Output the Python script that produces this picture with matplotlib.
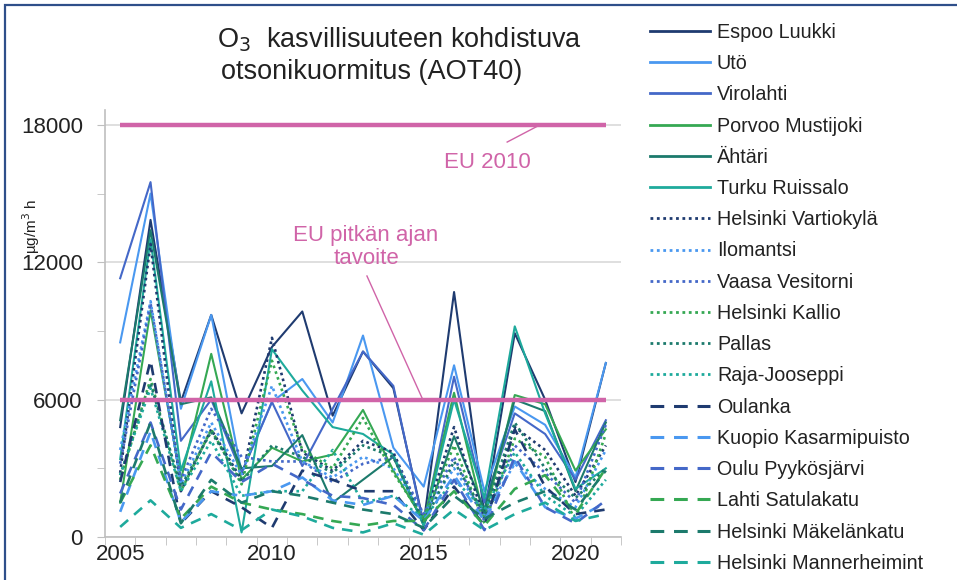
import matplotlib
matplotlib.use("Agg")
import matplotlib.pyplot as plt
from matplotlib.lines import Line2D
from matplotlib.patches import Rectangle

plt.rcParams['font.family'] = ['Liberation Sans', 'DejaVu Sans']

years = list(range(2005, 2022))

espoo_luukki = [4800, 13850, 5900, 9700, 5400, 8300, 9850, 5300, 8100, 6500, 600, 10700, 1000, 8900, 6000, 2400, 7600]
uto = [8500, 15000, 5600, 9700, 2800, 5900, 6900, 5000, 8800, 3900, 2200, 7500, 2000, 5700, 4900, 2600, 7600]
virolahti = [11300, 15500, 4200, 6000, 2800, 5900, 3100, 5600, 8100, 6600, 500, 7000, 1500, 5400, 4500, 2500, 5100]
porvoo = [1500, 9900, 2500, 8000, 2500, 3900, 3300, 3600, 5550, 2900, 700, 6300, 800, 6200, 5800, 2900, 4700]
ahtari = [5100, 13400, 5800, 6100, 3000, 3100, 4450, 1500, 2500, 3500, 500, 4400, 1200, 6000, 5500, 2000, 5000]
turku = [3400, 13000, 2900, 6800, 200, 8200, 6400, 4800, 4500, 3600, 500, 6000, 1700, 9200, 5400, 2100, 3000]

vartiokyla = [2800, 12800, 2000, 4700, 2500, 8700, 3700, 2900, 4200, 3700, 700, 4800, 800, 4800, 3800, 1800, 4000]
ilomantsi = [3800, 10300, 2300, 5000, 2700, 6600, 3300, 2600, 3500, 3000, 1000, 3000, 1000, 3200, 2100, 1300, 3800]
vaasa = [3200, 10200, 2500, 5600, 3500, 3300, 3300, 2400, 3200, 3500, 1000, 3500, 700, 4000, 2800, 1500, 4900]
kallio = [2500, 6900, 2000, 4700, 2300, 7700, 3800, 3000, 5200, 2800, 800, 4000, 600, 4300, 3500, 700, 4500]
pallas = [2700, 6700, 2200, 4600, 2400, 4000, 3500, 2800, 4000, 3500, 600, 3300, 1000, 5000, 3000, 1700, 3000]
raja_jooseppi = [2700, 6500, 2000, 4200, 1800, 2000, 2000, 3800, 1500, 1800, 800, 2500, 1200, 3700, 1800, 900, 2500]

oulanka = [2400, 7700, 600, 2000, 1300, 400, 2900, 2500, 2000, 2000, 300, 2200, 500, 4700, 2200, 1000, 1200]
kuopio = [1100, 4600, 650, 2000, 1800, 2000, 2600, 1600, 1400, 1800, 700, 2700, 700, 3300, 1300, 800, 1500]
oulu = [1900, 5000, 1200, 3700, 2400, 3200, 2500, 1800, 1700, 1400, 300, 2500, 300, 3500, 1300, 600, 1600]
lahti = [1500, 4000, 800, 2200, 1500, 1200, 1000, 700, 500, 700, 700, 2000, 500, 2100, 2700, 1000, 3000]
makelankatu = [1500, 5000, 600, 2500, 1500, 2000, 1800, 1500, 1200, 1000, 400, 1800, 800, 1500, 2000, 1200, 2900]
mannerheimintie = [440, 1600, 400, 1000, 300, 1200, 900, 400, 200, 600, 100, 1200, 300, 1000, 1500, 700, 1000]

series_names = ["Espoo Luukki", "Utö", "Virolahti", "Porvoo Mustijoki", "Ähtäri", "Turku Ruissalo",
                "Helsinki Vartiokylä", "Ilomantsi", "Vaasa Vesitorni", "Helsinki Kallio", "Pallas",
                "Raja-Jooseppi", "Oulanka", "Kuopio Kasarmipuisto", "Oulu Pyykösjärvi",
                "Lahti Satulakatu", "Helsinki Mäkelänkatu", "Helsinki Mannerheimint"]
series_values = [espoo_luukki, uto, virolahti, porvoo, ahtari, turku,
                 vartiokyla, ilomantsi, vaasa, kallio, pallas, raja_jooseppi,
                 oulanka, kuopio, oulu, lahti, makelankatu, mannerheimintie]

eu_2010 = 18000
eu_long_term = 6000
yticks = [0, 6000, 12000, 18000]
xticks = [2005, 2010, 2015, 2020]

palette = ["#1f3b70", "#4a98f0", "#4468c8", "#35a853", "#1c7a6c", "#1eaa9c"]
styles = ["solid"] * 6 + ["dotted"] * 6 + ["dashed"] * 6
pink = "#d064a8"
txt = "#222222"

fig = plt.figure(figsize=(9.57, 5.80), dpi=100)
W, H = 957, 580
ax = fig.add_axes([105 / W, 43 / H, 516 / W, 427 / H])

ax.set_xlim(2004.5, 2021.5)
ax.set_ylim(0, 18650)

for y in yticks:
    ax.axhline(y, color="#d9d9d9", lw=1.2, zorder=0)

for i, (name, vals) in enumerate(zip(series_names, series_values)):
    st = styles[i]
    col = palette[i % 6]
    if st == "solid":
        ax.plot(years, vals, color=col, lw=1.5, ls="-", zorder=3)
    elif st == "dotted":
        ax.plot(years, vals, color=col, lw=1.9, ls=(0, (1, 1.3)), zorder=3)
    else:
        ax.plot(years, vals, color=col, lw=1.9, ls=(0, (4, 3)), zorder=3)

ax.plot(years, [eu_2010] * len(years), color=pink, lw=3.2, zorder=4, solid_capstyle="butt")
ax.plot(years, [eu_long_term] * len(years), color=pink, lw=3.2, zorder=4, solid_capstyle="butt")

# annotations with leader lines
ax.text(2017.1, 16350, "EU 2010", ha="center", va="center", color=pink, fontsize=16)
ax.plot([2017.75, 2018.83], [17250, eu_2010], color=pink, lw=1, zorder=4)
ax.text(2013.1, 12650, "EU pitkän ajan\ntavoite", ha="center", va="center", color=pink,
        fontsize=16, linespacing=1.12)
ax.plot([2013.13, 2014.97], [11400, eu_long_term], color=pink, lw=1, zorder=4)

ax.set_yticks(yticks)
ax.set_yticklabels([str(v) for v in yticks])
ax.set_yticks([3000, 9000, 15000], minor=True)
ax.set_xticks(xticks)
ax.set_xticklabels([str(v) for v in xticks])
ax.set_xticks([y + 0.5 for y in range(2004, 2022)], minor=True)
ax.tick_params(axis="x", which="major", length=0, labelsize=16, pad=5, colors=txt)
ax.tick_params(axis="x", which="minor", length=6, color="#bfbfbf")
ax.tick_params(axis="y", which="both", length=6, color="#bfbfbf", labelsize=16, pad=10,
               labelcolor=txt)

for s in ["top", "right"]:
    ax.spines[s].set_visible(False)
for s in ["left", "bottom"]:
    ax.spines[s].set_color("#bfbfbf")
    ax.spines[s].set_linewidth(1.2)

fig.text(31 / W, 1 - 226 / H, "µg/m$^3$ h", rotation=90, ha="center", va="center",
         fontsize=11, color=txt)

fig.text(399 / W, 1 - 40 / H, "O$_3$  kasvillisuuteen kohdistuva", ha="center", va="center",
         fontsize=19.5, color=txt)
fig.text(372 / W, 1 - 72 / H, "otsonikuormitus (AOT40)", ha="center", va="center",
         fontsize=19.5, color=txt)

handles = []
for i, name in enumerate(series_names):
    st = styles[i]
    col = palette[i % 6]
    if st == "solid":
        h = Line2D([], [], color=col, lw=2.0, ls="-")
    elif st == "dotted":
        h = Line2D([], [], color=col, lw=2.0, ls=(0, (1, 1.3)))
    else:
        h = Line2D([], [], color=col, lw=2.2, ls=(0, (4.5, 3.2)))
    handles.append(h)

fig.legend(handles, series_names, loc="upper left", bbox_to_anchor=(642 / W, 1 - 15 / H),
           frameon=False, fontsize=14.2, handlelength=3.05, handletextpad=0.35,
           labelspacing=0.62, borderaxespad=0, labelcolor=txt)

fig.add_artist(Rectangle((5 / W, -0.05), 1.1, 1 - 5 / H + 0.05, transform=fig.transFigure,
                         fill=False, edgecolor="#2f4f8a", lw=1.6))

fig.savefig("out.png", dpi=100)
